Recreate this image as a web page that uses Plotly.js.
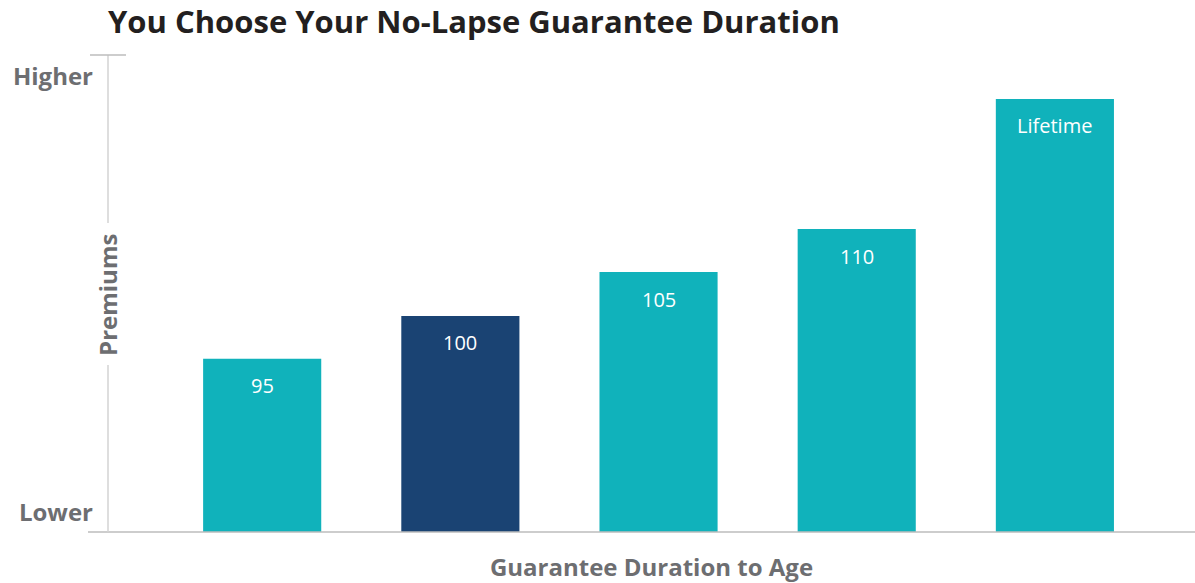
<!DOCTYPE html>
<html>
<head>
<meta charset="utf-8">
<script src="https://cdn.plot.ly/plotly-3.0.1.min.js"></script>
<style>html,body{margin:0;padding:0;background:#fff;}#chart{width:1195px;height:583px;}</style>
</head>
<body>
<div id="chart"></div>
<script>
const categories = ["95", "100", "105", "110", "Lifetime"];
const premiums = [36.3, 45.3, 54.5, 63.5, 90.8];
const barColors = ["#10b2bb", "#1a4373", "#10b2bb", "#10b2bb", "#10b2bb"];
const yTickVals = [4, 95.4];
const yTickText = ["Lower", "Higher"];

const FONT = "'Open Sans', sans-serif";
const gray = "#6d6e71";

const trace = {
  type: "bar",
  x: categories,
  y: premiums,
  marker: { color: barColors },
  width: 0.596,
  hoverinfo: "skip"
};

const annotations = categories.map((c, i) => ({
  x: i, y: premiums[i], xref: "x", yref: "y",
  text: c, showarrow: false, yanchor: "middle", yshift: -27,
  font: { family: FONT, size: 20, color: "#ffffff" }
}));
annotations.push({
  x: 0, y: 0.497, xref: "paper", yref: "paper", text: "Premiums",
  showarrow: false, textangle: -90, xanchor: "center", yanchor: "middle",
  font: { family: FONT, size: 24, color: gray, weight: 700 }
});

const layout = {
  width: 1195, height: 583,
  margin: { l: 108, r: 0, t: 55, b: 51 },
  paper_bgcolor: "#fff", plot_bgcolor: "#fff",
  title: {
    text: "You Choose Your No-Lapse Guarantee Duration",
    x: 108 / 1195, xanchor: "left", y: 1 - 22 / 583, yanchor: "middle",
    font: { family: FONT, size: 31, color: "#231f20", weight: 700 }
  },
  xaxis: {
    type: "category",
    range: [-0.778, 4.707],
    showticklabels: false, ticks: "", showline: false, showgrid: false, zeroline: false,
    fixedrange: true,
    title: { text: "Guarantee Duration to Age", standoff: 27, font: { family: FONT, size: 24, color: gray, weight: 700 } }
  },
  yaxis: {
    range: [0, 100],
    tickvals: yTickVals, ticktext: yTickText,
    tickfont: { family: FONT, size: 24, color: gray, weight: 700 },
    ticks: "", showline: false, showgrid: false, zeroline: false,
    ticklabelstandoff: 14,
    fixedrange: true
  },
  shapes: [
    { type: "line", xref: "paper", yref: "paper", x0: -20/1087, x1: 1, y0: 0, y1: 0, line: { color: "#bcbcbc", width: 1.5 } },
    { type: "line", xref: "paper", yref: "paper", x0: 0, x1: 0, y0: 0, y1: (532-365)/477, line: { color: "#d3d3d3", width: 1.5 } },
    { type: "line", xref: "paper", yref: "paper", x0: 0, x1: 0, y0: (532-223)/477, y1: 1, line: { color: "#d3d3d3", width: 1.5 } },
    { type: "line", xref: "paper", yref: "paper", x0: -18/1087, x1: 18/1087, y0: 1, y1: 1, line: { color: "#bcbcbc", width: 1.5 } }
  ],
  annotations: annotations,
  showlegend: false
};

Plotly.newPlot("chart", [trace], layout, { displayModeBar: false, staticPlot: true });
</script>
</body>
</html>
